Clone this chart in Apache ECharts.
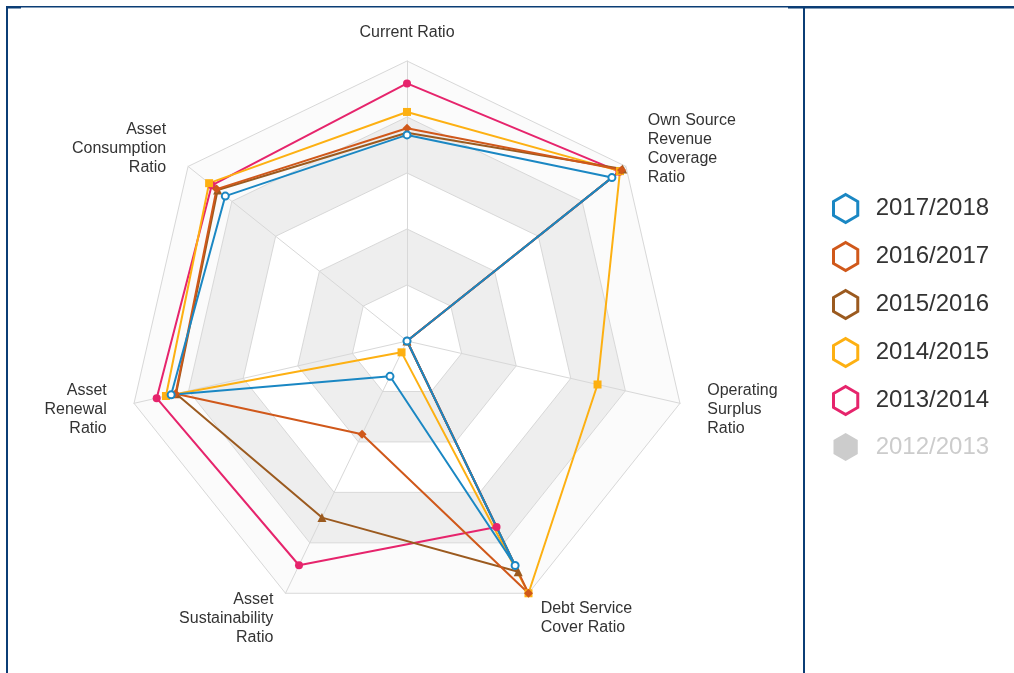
<!DOCTYPE html>
<html>
<head>
<meta charset="utf-8">
<script src="https://cdn.jsdelivr.net/npm/echarts@6/dist/echarts.min.js"></script>
<style>
  html, body { margin: 0; padding: 0; background: #fff; }
  #main { width: 1014px; height: 673px; }
</style>
</head>
<body>
<div id="main"></div>
<script>
// indicators in echarts order (counter-clockwise from the top)
var indicators = [
  'Current Ratio',
  'Asset\nConsumption\nRatio',
  'Asset\nRenewal\nRatio',
  'Asset\nSustainability\nRatio',
  'Debt Service\nCover Ratio',
  'Operating\nSurplus\nRatio',
  'Own Source\nRevenue\nCoverage\nRatio'
];

var years = ['2017/2018', '2016/2017', '2015/2016', '2014/2015', '2013/2014', '2012/2013'];
var colors = ['#1a87c3', '#d0581a', '#9b5a1f', '#fdb012', '#e6246c', '#cccccc'];
var symbols = ['emptyCircle', 'diamond', 'triangle', 'rect', 'circle', 'circle'];
var symbolSizes = [7, 9, 9, 8, 8, 8];

// values, same order as indicators
var v2017 = [73.6, 83.0, 86.4, 14.0, 89.0, 0, 93.6];
var v2016 = [76.0, 87.0, 84.8, 37.0, 100, 0, 98.0];
var v2015 = [74.4, 86.5, 84.6, 70.0, 91.5, 0, 98.5];
var v2014 = [81.8, 90.4, 88.3, 4.5, 100, 69.8, 97.3];
var v2013 = [92.0, 89.2, 91.7, 88.9, 73.7, 0, 97.0];
var v2012 = []; // hidden in the legend, not shown on the chart

var seriesValues = [v2017, v2016, v2015, v2014, v2013, v2012];

var chart = echarts.init(document.getElementById('main'));

var hexagon = 'path://M13,0 L26,7.5 L26,22.5 L13,30 L0,22.5 L0,7.5 Z';
var frameColor = '#0b3d75';
var fontFamily = 'Liberation Sans, Arial, sans-serif';

function makeItem(i) {
  return {
    name: years[i],
    value: seriesValues[i],
    symbol: symbols[i],
    symbolSize: symbolSizes[i],
    itemStyle: { color: colors[i], borderWidth: 2 },
    lineStyle: { color: colors[i], width: 2 }
  };
}

// 2013/2014 first ... 2017/2018 last so the newest sits on top;
// the hidden 2012/2013 entry goes at the very end
var radarData = [];
for (var i = 4; i >= 0; i--) radarData.push(makeItem(i));
radarData.push(makeItem(5));

var option = {
  backgroundColor: '#ffffff',
  animation: false,
  legend: {
    orient: 'vertical',
    left: 827,
    top: 188,
    itemWidth: 38,
    itemHeight: 28,
    itemGap: 17,
    icon: hexagon,
    selected: { '2012/2013': false },
    inactiveColor: '#cccccc',
    inactiveBorderColor: '#cccccc',
    textStyle: {
      fontFamily: fontFamily,
      fontSize: 24,
      color: '#333',
      padding: [0, 0, 0, 6]
    },
    data: years.map(function (y, i) {
      return {
        name: y,
        itemStyle: { color: '#ffffff', borderColor: colors[i], borderWidth: 3 }
      };
    })
  },
  radar: {
    center: [407, 341],
    radius: 280,
    startAngle: 90,
    splitNumber: 5,
    shape: 'polygon',
    nameGap: 28,
    axisName: {
      color: '#333',
      fontFamily: fontFamily,
      fontSize: 16,
      lineHeight: 19,
      formatter: function (name) {
        return name === 'Current Ratio' ? '{top|' + name + '}' : name;
      },
      rich: {
        top: { color: '#333', fontFamily: fontFamily, fontSize: 16, lineHeight: 1 }
      }
    },
    indicator: indicators.map(function (n) {
      return { name: n, min: 0, max: 100 };
    }),
    splitLine: { lineStyle: { color: '#d8d8d8', width: 1 } },
    axisLine: { lineStyle: { color: '#d8d8d8', width: 1 } },
    splitArea: {
      show: true,
      areaStyle: { color: ['#ffffff', '#eeeeee', '#ffffff', '#eeeeee', '#fbfbfb'] }
    }
  },
  series: [{
    type: 'radar',
    data: radarData
  }],
  graphic: [
    { type: 'rect', shape: { x: 6, y: 6, width: 782, height: 1.5 }, style: { fill: frameColor }, silent: true },
    { type: 'rect', shape: { x: 788, y: 6, width: 226, height: 2.5 }, style: { fill: frameColor }, silent: true },
    { type: 'rect', shape: { x: 6, y: 6, width: 15, height: 2.5 }, style: { fill: frameColor }, silent: true },
    { type: 'rect', shape: { x: 6, y: 6, width: 2, height: 667 }, style: { fill: frameColor }, silent: true },
    { type: 'rect', shape: { x: 803, y: 7, width: 2, height: 666 }, style: { fill: frameColor }, silent: true }
  ]
};

chart.setOption(option);
</script>
</body>
</html>
